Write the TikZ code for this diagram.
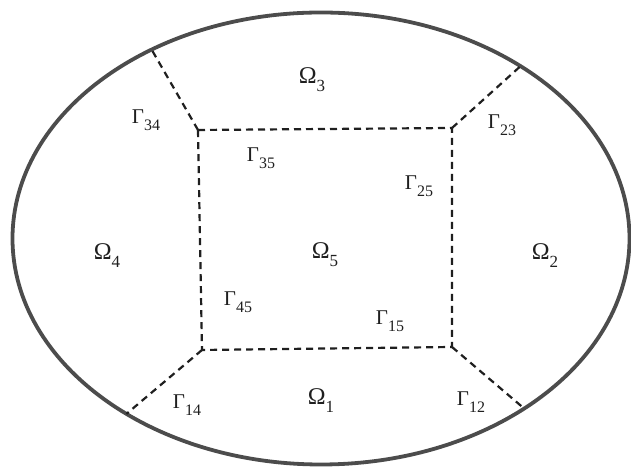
\documentclass[tikz,border=0pt]{standalone}
\usepackage{fontspec}
\setmainfont{Liberation Serif}
\usetikzlibrary{calc}
\newcommand\OmL[1]{{\fontsize{24}{24}\selectfont Ω\raisebox{-8pt}{\fontsize{17}{17}\selectfont #1}}}
\newcommand\GaL[1]{{\fontsize{21}{21}\selectfont Γ\raisebox{-7pt}{\fontsize{16}{16}\selectfont #1}}}
\tikzset{
  outline/.style={line width=3.8pt, draw=black!70},
  iface/.style={line width=2.2pt, draw=black!88, dash pattern=on 7pt off 5pt},
  lab/.style={inner sep=0pt, text=black!88}
}
\begin{document}
\begin{tikzpicture}[x=1pt,y=1pt]
\useasboundingbox (0,0) rectangle (631,470);
\coordinate (c) at (321,231.5);
\draw[outline] (c) ellipse [x radius=308.5, y radius=226];
% inner corners
\coordinate (tl) at (198,340);
\coordinate (tr) at (452,342);
\coordinate (br) at (452,123);
\coordinate (bl) at (202,120);
% spoke ends on the ellipse
\coordinate (etl) at ($(c)+(123.3:308.5 and 226)$);
\coordinate (etr) at ($(c)+(49.7:308.5 and 226)$);
\coordinate (ebr) at ($(c)+(-48.8:308.5 and 226)$);
\coordinate (ebl) at ($(c)+(-129.1:308.5 and 226)$);
\draw[iface] (tl) -- (tr) -- (br) -- (bl) -- cycle;
\draw[iface] (tl) -- (etl);
\draw[iface] (tr) -- (etr);
\draw[iface] (br) -- (ebr);
\draw[iface] (bl) -- (ebl);
% labels
\node[lab] (o3) at (312,390) {\OmL{3}};
\node[lab] (o4) at (107,214) {\OmL{4}};
\node[lab] (o5) at (325,215) {\OmL{5}};
\node[lab] (o2) at (545,214) {\OmL{2}};
\node[lab] (o1) at (321,69) {\OmL{1}};
\node[lab] (g34) at (146,350) {\GaL{34}};
\node[lab] (g23) at (502,345) {\GaL{23}};
\node[lab] (g35) at (261,312) {\GaL{35}};
\node[lab] (g25) at (419,284) {\GaL{25}};
\node[lab] (g45) at (238,168) {\GaL{45}};
\node[lab] (g15) at (390,149) {\GaL{15}};
\node[lab] (g14) at (187,65) {\GaL{14}};
\node[lab] (g12) at (471,68) {\GaL{12}};
\end{tikzpicture}
\end{document}
